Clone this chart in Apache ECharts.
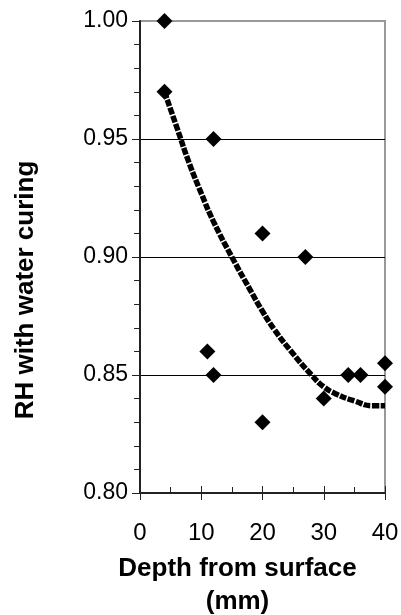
<!DOCTYPE html>
<html>
<head>
<meta charset="utf-8">
<script src="https://cdn.jsdelivr.net/npm/echarts@6/dist/echarts.min.js"></script>
<style>
html,body{margin:0;padding:0;background:#fff;}
#chart{width:401px;height:615px;}
</style>
</head>
<body>
<div id="chart"></div>
<script>
// Observed data points (depth in mm, RH)
const depth = [4, 4, 12, 11, 12, 20, 20, 27, 30, 34, 36, 40, 40];
const rh = [1.00, 0.97, 0.95, 0.86, 0.85, 0.91, 0.83, 0.90, 0.84, 0.85, 0.85, 0.855, 0.845];
// Trend line
const trendX = [4, 6, 8, 10, 12, 15, 18, 20, 22, 25, 28, 30, 32, 35, 38, 40];
const trendY = [0.970, 0.955, 0.940, 0.927, 0.915, 0.900, 0.886, 0.877, 0.869, 0.859, 0.850, 0.845, 0.842, 0.839, 0.837, 0.837];
// Axis ticks
const xTicks = [0, 10, 20, 30, 40];
const yTicks = [0.80, 0.85, 0.90, 0.95, 1.00];

const FONT = 'Liberation Sans, Arial, sans-serif';
const chart = echarts.init(document.getElementById('chart'), null, {renderer: 'canvas'});

const xMin = xTicks[0], xMax = xTicks[xTicks.length - 1], xStep = xTicks[1] - xTicks[0];
const yMin = yTicks[0], yMax = yTicks[yTicks.length - 1], yStep = +(yTicks[1] - yTicks[0]).toFixed(2);

const option = {
  animation: false,
  backgroundColor: '#fff',
  grid: {left: 140, right: 16, top: 21, bottom: 122, show: true, borderColor: '#999', borderWidth: 2,
    backgroundColor: 'transparent', containLabel: false, outerBoundsMode: 'none'},
  xAxis: [
    {
      type: 'value', min: xMin, max: xMax, interval: xStep,
      axisLine: {show: true, lineStyle: {color: '#222', width: 2}},
      axisTick: {show: true, inside: false, length: 7, lineStyle: {color: '#222', width: 1}},
      axisLabel: {show: true, color: '#000', fontFamily: FONT, fontSize: 24, margin: 28},
      splitLine: {show: false},
      name: 'Depth from surface\n(mm)', nameLocation: 'middle', nameGap: 59,
      nameTextStyle: {color: '#000', fontFamily: FONT, fontSize: 26, fontWeight: 'bold', lineHeight: 33,
        padding: [0, 50, 0, 0]}
    },
    {
      type: 'value', min: xMin, max: xMax, interval: xStep, position: 'bottom',
      axisLine: {show: false},
      axisTick: {show: true, inside: true, length: 7, lineStyle: {color: '#222', width: 1}},
      minorTick: {show: true, splitNumber: 2, length: 6, lineStyle: {color: '#222', width: 1}},
      axisLabel: {show: false},
      splitLine: {show: false}
    }
  ],
  yAxis: [
    {
      type: 'value', min: yMin, max: yMax, interval: yStep,
      axisLine: {show: true, lineStyle: {color: '#222', width: 2}},
      axisTick: {show: true, inside: false, length: 8, lineStyle: {color: '#222', width: 1}},
      axisLabel: {show: true, color: '#000', fontFamily: FONT, fontSize: 23, margin: 12,
        formatter: v => v.toFixed(2)},
      splitLine: {show: true, lineStyle: {color: ['#000', '#000', '#000', '#000', '#999'], width: 1}},
      name: 'RH with water curing', nameLocation: 'middle', nameGap: 101, nameRotate: 90,
      nameTextStyle: {color: '#000', fontFamily: FONT, fontSize: 26, fontWeight: 'bold', padding: [0, 66, 0, 0]}
    },
    {
      type: 'value', min: yMin, max: yMax, interval: yStep, position: 'left',
      axisLine: {show: false},
      axisTick: {show: false},
      minorTick: {show: true, inside: true, splitNumber: 5, length: 6, lineStyle: {color: '#222', width: 1}},
      axisLabel: {show: false},
      splitLine: {show: false}
    }
  ],
  series: [
    {
      type: 'line', xAxisIndex: 0, yAxisIndex: 0,
      data: trendX.map((x, i) => [x, trendY[i]]),
      smooth: true, showSymbol: false, symbol: 'none',
      lineStyle: {color: '#000', width: 5.5, type: [7, 1.5]},
      z: 2
    },
    {
      type: 'scatter', xAxisIndex: 0, yAxisIndex: 0,
      data: depth.map((x, i) => [x, rh[i]]),
      symbol: 'diamond', symbolSize: [16, 16],
      itemStyle: {color: '#000', opacity: 1},
      z: 3
    }
  ]
};
chart.setOption(option);
</script>
</body>
</html>
